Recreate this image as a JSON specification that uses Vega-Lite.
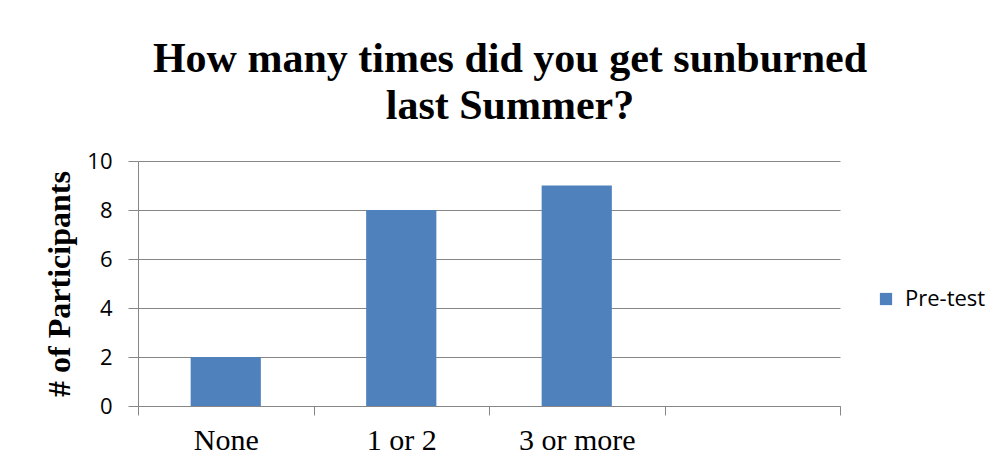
{
  "$schema": "https://vega.github.io/schema/vega-lite/v6.json",
  "width": 702,
  "height": 245,
  "autosize": {"type": "none"},
  "padding": {"left": 138, "top": 161, "right": 161, "bottom": 70},
  "background": "white",
  "title": {
    "text": ["How many times did you get sunburned", "last Summer?"],
    "font": "Liberation Serif",
    "fontSize": 42,
    "fontWeight": "bold",
    "color": "black",
    "lineHeight": 47,
    "anchor": "middle",
    "frame": "group",
    "baseline": "bottom",
    "offset": 32,
    "dx": 21,
    "dy": 52
  },
  "data": {
    "values": [
      {"category": "None", "series": "Pre-test", "count": 2},
      {"category": "1 or 2", "series": "Pre-test", "count": 8},
      {"category": "3 or more", "series": "Pre-test", "count": 9}
    ]
  },
  "mark": {"type": "bar", "width": {"band": 0.4}},
  "encoding": {
    "x": {
      "field": "category",
      "type": "nominal",
      "sort": null,
      "scale": {"domain": ["None", "1 or 2", "3 or more", ""], "paddingInner": 0, "paddingOuter": 0},
      "axis": {
        "title": null,
        "labelAngle": 0,
        "labelFont": "Liberation Serif",
        "labelFontSize": 30,
        "labelColor": "black",
        "labelPadding": 10,
        "tickBand": "extent",
        "tickSize": 9,
        "tickColor": "#868686",
        "domainColor": "#868686",
        "grid": false
      }
    },
    "y": {
      "field": "count",
      "type": "quantitative",
      "scale": {"domain": [0, 10], "nice": false},
      "axis": {
        "title": "# of Participants",
        "titleFont": "Liberation Serif",
        "titleFontSize": 32,
        "titleFontWeight": "bold",
        "titleColor": "black",
        "titlePadding": 10,
        "values": [0, 2, 4, 6, 8, 10],
        "labelFont": "Open Sans",
        "labelFontSize": 22,
        "labelColor": "black",
        "labelPadding": 16,
        "tickSize": 10,
        "tickColor": "#868686",
        "domainColor": "#868686",
        "grid": true,
        "gridColor": "#868686"
      }
    },
    "color": {
      "field": "series",
      "type": "nominal",
      "scale": {"range": ["#4F81BD"]},
      "legend": {
        "title": null,
        "orient": "none",
        "legendX": 737,
        "legendY": 127,
        "symbolType": "square",
        "symbolSize": 150,
        "symbolStrokeWidth": 0,
        "labelFont": "Open Sans",
        "labelFontSize": 22,
        "labelColor": "black",
        "labelOffset": 8
      }
    }
  },
  "config": {"view": {"stroke": null}}
}
